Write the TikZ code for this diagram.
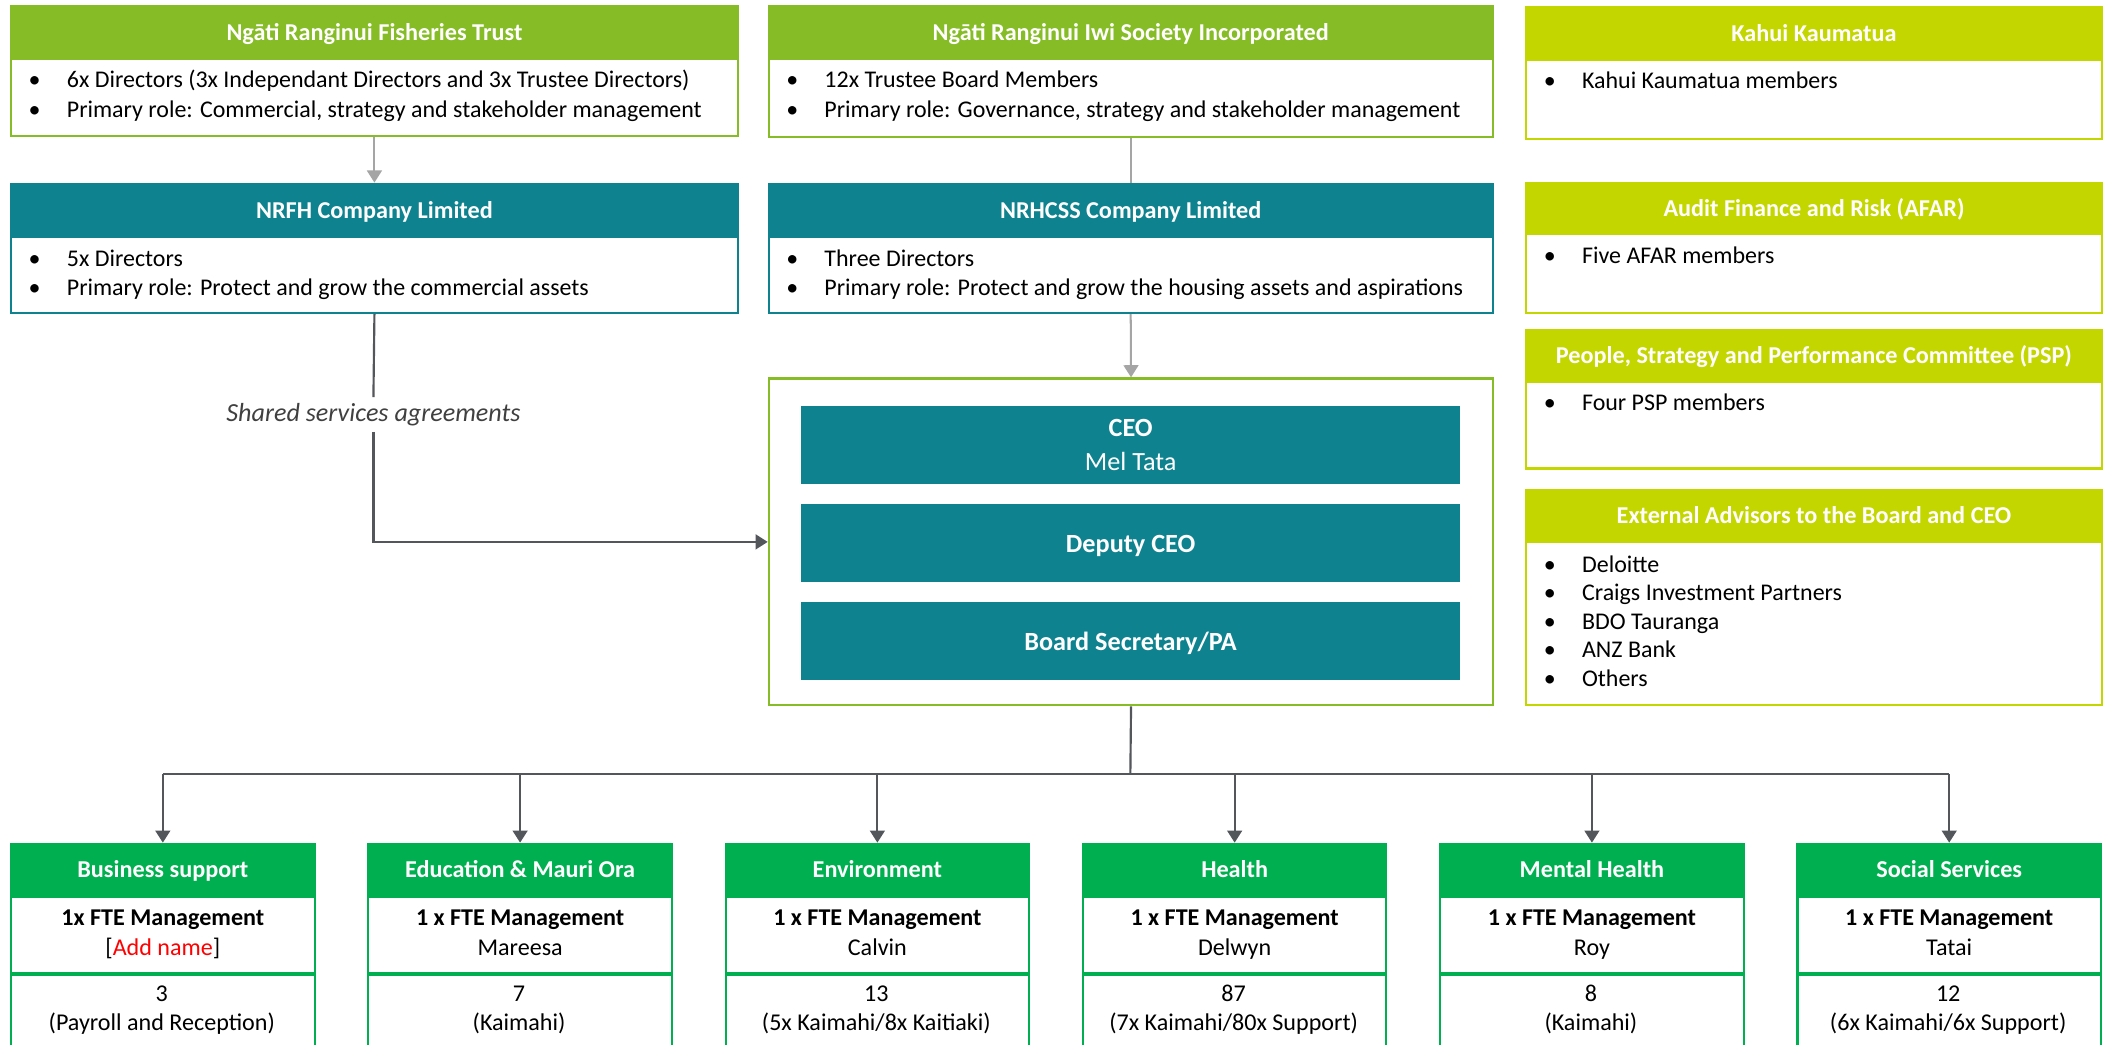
\documentclass[tikz,border=0pt]{standalone}
\usepackage{fontspec}
\setmainfont{Carlito}
\usetikzlibrary{arrows.meta}
\definecolor{trustgreen}{HTML}{86BC25}
\definecolor{tealbox}{HTML}{0E838F}
\definecolor{limebox}{HTML}{C4D600}
\definecolor{divgreen}{HTML}{00B050}
\definecolor{lightline}{HTML}{A5A5A5}
\definecolor{darkline}{HTML}{53565A}
\definecolor{labelgrey}{HTML}{404040}
\newcommand\bul{\makebox[28.4pt][l]{\textbullet}}
\tikzset{
 hdr/.style={rectangle, draw=#1, fill=#1, line width=1.5pt, text=white, font=\bfseries\fontsize{18}{21}\selectfont, inner sep=0pt, anchor=north west, text height=13pt, text depth=0pt},
 bodybox/.style={rectangle, draw=#1, fill=white, line width=1.5pt, inner sep=0pt, anchor=north west},
 btext/.style={font=\fontsize{17.8}{22}\selectfont, align=left, anchor=north west, inner sep=0pt},
 ctext/.style={font=\fontsize{17.9}{22}\selectfont, align=center, inner sep=0pt},
 exec/.style={rectangle, fill=tealbox, text=white, inner sep=0pt, anchor=north west, minimum width=490pt, minimum height=57.7pt, align=center, font=\fontsize{19.5}{25.5}\selectfont},
 lightarrow/.style={draw=lightline, line width=1.5pt, -{Triangle[width=11pt,length=9pt]}},
 lightlink/.style={draw=lightline, line width=1.5pt},
 darkarrow/.style={draw=darkline, line width=1.6pt, -{Triangle[width=11pt,length=9pt]}},
 darklink/.style={draw=darkline, line width=1.6pt},
}
\newcommand\orgcard[8]{%
 \node[hdr=#7, minimum width=#4pt, minimum height=#5pt] (#1) at (#2,#3) {#8};
 \node[bodybox=#7, minimum width=#4pt, minimum height=#6pt] (#1b) at (#1.south west) {};
}
\newcommand\divcard[6]{%
 \node[hdr=divgreen, minimum width=225.5pt, minimum height=38pt] (#1) at (#2,626.2) {#3};
 \node[bodybox=divgreen, minimum width=225.5pt, minimum height=56.3pt] (#1m) at (#1.south west) {};
 \node[bodybox=divgreen, minimum width=225.5pt, minimum height=80pt] (#1c) at (#1m.south west) {};
 \node[ctext] (#1mt) at (#1m.center) {\strut#4\\\strut#5};
 \node[ctext] (#1ct) at (#2+112.75,750.5) {\strut#6};
}
\begin{document}
\begin{tikzpicture}[x=1pt,y=-1pt]
\useasboundingbox (0,0) rectangle (1568,776);
\clip (0,0) rectangle (1568,776);
\fill[white] (0,0) rectangle (1568,776);

% top cards
\orgcard{ft}{7.5}{3.7}{540}{37.9}{57}{trustgreen}{Ngāti Ranginui Fisheries Trust}
\orgcard{nrfh}{7.5}{135.7}{540}{38.2}{56.5}{tealbox}{NRFH Company Limited}
\orgcard{iwi}{570.5}{4}{538}{37.6}{58}{trustgreen}{Ngāti Ranginui Iwi Society Incorporated}
\orgcard{nrh}{570.5}{135.7}{538}{38.2}{56.5}{tealbox}{NRHCSS Company Limited}
\orgcard{kk}{1133.5}{4.5}{427.5}{37.6}{59}{limebox}{Kahui Kaumatua}
\orgcard{afar}{1133.5}{135}{427.5}{37}{58.3}{limebox}{Audit Finance and Risk (AFAR)}
\orgcard{psp}{1133.5}{244.4}{427.5}{37.1}{64.4}{limebox}{People, Strategy and Performance Committee (PSP)}
\orgcard{ext}{1133.5}{363.4}{427.5}{37.4}{120.7}{limebox}{External Advisors to the Board and CEO}

\node[btext] (ftt) at (21.1,49.5) {\strut\bul 6x Directors (3x Independant Directors and 3x Trustee Directors)\\\strut\bul Primary role: Commercial, strategy and stakeholder management};
\node[btext] (nrfht) at (21.1,182.1) {\strut\bul 5x Directors\\\strut\bul Primary role: Protect and grow the commercial assets};
\node[btext] (iwit) at (584.1,49.5) {\strut\bul 12x Trustee Board Members\\\strut\bul Primary role: Governance, strategy and stakeholder management};
\node[btext] (nrht) at (584.1,182.1) {\strut\bul Three Directors\\\strut\bul Primary role: Protect and grow the housing assets and aspirations};
\node[btext] (kkt) at (1147.1,50.3) {\strut\bul Kahui Kaumatua members};
\node[btext] (afart) at (1147.1,180.1) {\strut\bul Five AFAR members};
\node[btext] (pspt) at (1147.1,289.1) {\strut\bul Four PSP members};
\node[btext, font=\fontsize{17.8}{21.2}\selectfont] (extt) at (1147.1,410.1) {\strut\bul Deloitte\\\strut\bul Craigs Investment Partners\\\strut\bul BDO Tauranga\\\strut\bul ANZ Bank\\\strut\bul Others};

% centre
\node[draw=trustgreen, line width=2pt, fill=white, minimum width=538pt, minimum height=242.6pt, anchor=north west, inner sep=0pt] (cbox) at (570.5,280.4) {};
\node[exec] (ceo) at (595,301.7) {\textbf{CEO}\\Mel Tata};
\node[exec, text height=14pt, text depth=0pt] (dep) at (595,374.5) {\textbf{Deputy CEO}};
\node[exec, text height=14pt, text depth=0pt] (sec) at (595,447.4) {\textbf{Board Secretary/PA}};

% divisions
\divcard{bs}{7.5}{Business support}{\textbf{1x FTE Management}}{{[}\textcolor{red}{Add name}{]}}{3\\\strut(Payroll and Reception)}
\divcard{edu}{273}{Education \& Mauri Ora}{\textbf{1 x FTE Management}}{Mareesa}{7\\\strut(Kaimahi)}
\divcard{env}{538.5}{Environment}{\textbf{1 x FTE Management}}{Calvin}{13\\\strut(5x Kaimahi/8x Kaitiaki)}
\divcard{hl}{804}{Health}{\textbf{1 x FTE Management}}{Delwyn}{87\\\strut(7x Kaimahi/80x Support)}
\divcard{mh}{1069.5}{Mental Health}{\textbf{1 x FTE Management}}{Roy}{8\\\strut(Kaimahi)}
\divcard{ss}{1335}{Social Services}{\textbf{1 x FTE Management}}{Tatai}{12\\\strut(6x Kaimahi/6x Support)}

% connectors
\draw[lightarrow] (ftb.south) -- (nrfh.north);
\draw[lightlink] (iwib.south) -- (nrh.north);
\draw[lightarrow] (nrhb.south) -- (cbox.north);

\node[font=\itshape\fontsize{19.4}{22}\selectfont, text=labelgrey, inner sep=0pt, minimum height=25.5pt] (ssa) at (277.5,308) {Shared services agreements};
\draw[darklink] (nrfhb.south) -- (ssa.north);
\draw[darkarrow] (ssa.south) |- (cbox.west);

\coordinate (bus) at (840,575);
\draw[darklink] (cbox.south) -- (bus);
\draw[darklink] (bus -| bs.north) -- (bus -| ss.north);
\foreach \n in {bs,edu,env,hl,mh,ss} \draw[darkarrow] (bus -| \n.north) -- (\n.north);
\end{tikzpicture}
\end{document}
